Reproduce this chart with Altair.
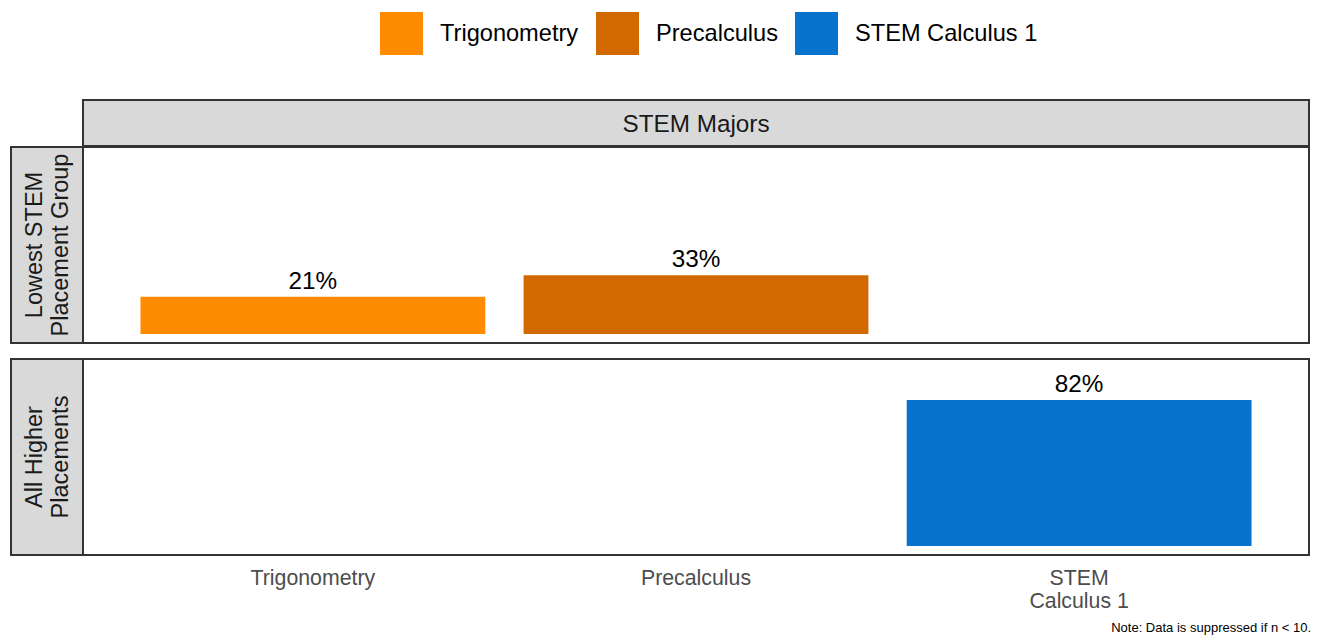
import altair as alt
import pandas as pd

# ---- data ----
courses = ["Trigonometry", "Precalculus", "STEM Calculus 1"]
groups = ["Lowest STEM Placement Group", "Lowest STEM Placement Group", "All Higher Placements"]
pct = [21, 33, 82]
colors = ["#FF8C00", "#D26800", "#0873CC"]
row_order = ["Lowest STEM Placement Group", "All Higher Placements"]
row_labels = ["Lowest STEM\nPlacement Group", "All Higher\nPlacements"]
col_label = "STEM Majors"
note = "Note: Data is suppressed if n < 10."

df = pd.DataFrame({"course": courses, "group": groups, "pct": pct})

FONT = "Liberation Sans"
PANEL_W = 1226
PANEL_H = 196
STRIP_W = 72
STRIP_H = 46
BORDER = "#333333"
STRIP_FILL = "#D9D9D9"
LINE_H = 25.5

x_scale = alt.Scale(domain=courses, paddingInner=0.1, paddingOuter=0.15)
y_scale = alt.Scale(domain=[-5, 105], nice=False, zero=False)
color_scale = alt.Scale(domain=courses, range=colors)
color_legend = alt.Legend(
    title=None, orient="none", direction="horizontal", columns=3,
    legendX=369, legendY=-88, symbolType="square", symbolSize=1849,
    symbolStrokeWidth=0, symbolOpacity=1, labelFontSize=23.6, labelColor="#000000",
    labelFont=FONT, labelOffset=17, columnPadding=17, labelLimit=400,
)

panel_view = alt.ViewBackground(fill="white", stroke=BORDER, strokeWidth=2)
strip_view = alt.ViewBackground(fill=STRIP_FILL, stroke=BORDER, strokeWidth=2)
blank_view = alt.ViewBackground(fill="transparent", stroke="transparent")


def panel(group, show_x):
    if show_x:
        x_axis = alt.Axis(
            title=None, ticks=False, domain=False, grid=False, labelAngle=0,
            labelFontSize=21.3, labelColor="#4D4D4D", labelFont=FONT, labelPadding=12,
            labelLineHeight=23, labelBaseline="top",
            labelExpr="datum.value == 'STEM Calculus 1' ? ['STEM', 'Calculus 1'] : datum.label",
        )
    else:
        x_axis = None
    base = alt.Chart(df).transform_filter(alt.datum.group == group)
    bars = base.mark_bar().encode(
        x=alt.X("course:N", scale=x_scale, axis=x_axis, sort=courses),
        y=alt.Y("pct:Q", scale=y_scale, axis=None),
        y2=alt.datum(0),
        color=alt.Color("course:N", scale=color_scale, legend=color_legend, sort=courses),
    )
    labels = base.transform_calculate(lab="datum.pct + '%'").mark_text(
        baseline="bottom", dy=-3, fontSize=24.3, font=FONT, color="#000000"
    ).encode(
        x=alt.X("course:N", scale=x_scale, axis=x_axis, sort=courses),
        y=alt.Y("pct:Q", scale=y_scale, axis=None),
        text="lab:N",
    )
    return alt.layer(bars, labels, view=panel_view).properties(width=PANEL_W, height=PANEL_H)


def row_strip(label):
    return alt.Chart(pd.DataFrame({"t": [label]}), view=strip_view).mark_text(
        angle=270, align="center", baseline="middle", lineBreak="\n",
        fontSize=23.5, font=FONT, color="#1A1A1A", lineHeight=LINE_H,
    ).encode(
        text="t:N", x=alt.value(STRIP_W / 2 - LINE_H / 2 + 1), y=alt.value(PANEL_H / 2)
    ).properties(width=STRIP_W, height=PANEL_H)


top_strip = alt.Chart(pd.DataFrame({"t": [col_label]}), view=strip_view).mark_text(
    align="center", baseline="middle", dy=2, fontSize=24.3, font=FONT, color="#1A1A1A",
).encode(
    text="t:N", x=alt.value(PANEL_W / 2), y=alt.value(STRIP_H / 2)
).properties(width=PANEL_W, height=STRIP_H)

spacer = alt.Chart(pd.DataFrame({"t": [""]}), view=blank_view).mark_text().encode(
    text="t:N"
).properties(width=STRIP_W, height=STRIP_H)

top_row = alt.hconcat(spacer, top_strip, spacing=0, bounds="flush")
row1 = alt.hconcat(row_strip(row_labels[0]), panel(row_order[0], False), spacing=0, bounds="flush")
row2 = alt.hconcat(row_strip(row_labels[1]), panel(row_order[1], True), spacing=0, bounds="flush")
upper = alt.vconcat(top_row, row1, spacing=-1)

chart = alt.vconcat(upper, row2, spacing=14).properties(
    title=alt.TitleParams(
        note, orient="bottom", anchor="end", fontSize=13, fontWeight="normal",
        color="#000000", font=FONT, offset=10, dx=1,
    ),
    padding={"left": 2, "top": 4, "right": 0, "bottom": 0},
).resolve_scale(color="shared").configure(font=FONT).configure_view(stroke="transparent")

chart.save("out.html", embed_options={"renderer": "svg", "actions": False})
